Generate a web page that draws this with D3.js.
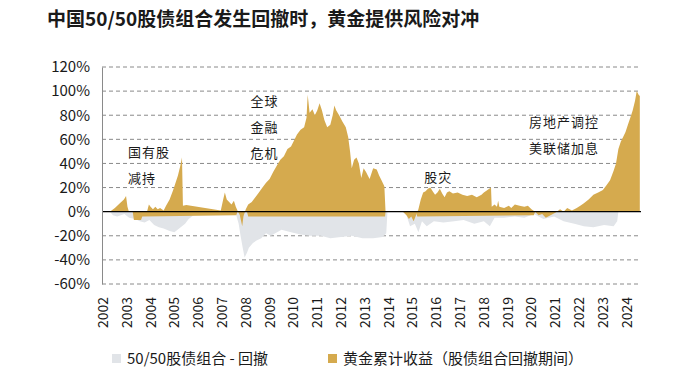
<!DOCTYPE html>
<html>
<head>
<meta charset="utf-8">
<script src="https://cdn.jsdelivr.net/npm/d3@7"></script>
<style>
  body { margin: 0; background: #fff; }
  text { font-family: "Noto Sans CJK SC", "Noto Sans", sans-serif; fill: #1a1a1a; }
</style>
</head>
<body>
<svg id="svg"></svg>
<script>
// colors
let gold = "#d5aa4e"
let grey = "#e1e4e8"

// x axis tick labels
let years = d3.range(2002, 2025);
let yTicks = [-60, -40, -20, 0, 20, 40, 60, 80, 100, 120];

// 50/50 portfolio drawdown (%)
let ddDates = [2002.29, 2002.42, 2002.6, 2002.9, 2003.1, 2003.35, 2003.55, 2003.75, 2003.95, 2004.15,
  2004.35, 2004.55, 2004.8, 2005.0, 2005.2, 2005.45, 2005.6, 2005.8, 2006.0, 2007.5,
  2007.6, 2007.7, 2007.78, 2007.87, 2007.95, 2008.05, 2008.13, 2008.3, 2008.45, 2008.65,
  2008.85, 2009.05, 2009.5, 2009.9, 2010.3, 2010.7, 2011.15, 2011.55, 2012.0, 2012.45,
  2012.9, 2013.35, 2013.75, 2013.9, 2013.95, 2014.6, 2014.75, 2014.9, 2015.1, 2015.25,
  2015.4, 2015.6, 2015.9, 2016.3, 2016.75, 2017.15, 2017.6, 2018.0, 2018.25, 2018.45,
  2018.85, 2019.3, 2019.7, 2020.1, 2020.5, 2020.95, 2021.35, 2021.8, 2022.2, 2022.6,
  2023.05, 2023.45, 2023.6, 2023.65, 2024.55];
let ddValues = [0, -3, -4, -2, -5, -6, -8, -9, -7, -11,
  -13, -14, -16, -17, -14, -10, -6, -3, 0, 0,
  -3, -10, -20, -30, -38, -34, -30, -26, -24, -22,
  -18, -20, -15, -17, -19, -20, -20, -22, -21, -20,
  -22, -22, -21, -18, 0, 0, -3, -12, -10, -17,
  -8, -12, -8, -9, -8, -7, -10, -8, -12, -5,
  -5, -4, -5, -2, -6, -4, -8, -10, -12, -13,
  -11, -12, -8, 0, 0];

// gold cumulative return during drawdowns (%)
let goldDates = [2002.29, 2002.5, 2002.71, 2002.88, 2002.97, 2003.03, 2003.09, 2003.85, 2003.93, 2004.0,
  2004.1, 2004.2, 2004.3, 2004.4, 2004.55, 2004.65, 2004.8, 2004.95, 2005.05, 2005.15,
  2005.25, 2005.32, 2005.36, 2005.5, 2006.95, 2007.05, 2007.12, 2007.2, 2007.3, 2007.4,
  2007.5, 2007.58, 2007.65, 2007.75, 2007.85, 2007.9, 2008.0, 2008.1, 2008.25, 2008.4,
  2008.55, 2008.7, 2008.85, 2009.0, 2009.15, 2009.3, 2009.45, 2009.6, 2009.75, 2009.9,
  2010.0, 2010.15, 2010.3, 2010.45, 2010.55, 2010.6, 2010.68, 2010.8, 2010.9, 2011.0,
  2011.1, 2011.2, 2011.3, 2011.42, 2011.55, 2011.65, 2011.72, 2011.8, 2011.92, 2012.05,
  2012.2, 2012.3, 2012.38, 2012.45, 2012.55, 2012.65, 2012.75, 2012.85, 2012.95, 2013.05,
  2013.2, 2013.35, 2013.5, 2013.6, 2013.7, 2013.82, 2013.87, 2014.6, 2014.75, 2014.85,
  2014.95, 2015.05, 2015.15, 2015.25, 2015.35, 2015.45, 2015.55, 2015.65, 2015.75, 2015.85,
  2015.95, 2016.05, 2016.15, 2016.25, 2016.35, 2016.45, 2016.55, 2016.7, 2016.9, 2017.1,
  2017.3, 2017.5, 2017.7, 2017.9, 2018.0, 2018.15, 2018.3, 2018.33, 2018.45, 2018.55,
  2018.6, 2018.65, 2018.85, 2019.05, 2019.15, 2019.3, 2019.5, 2019.7, 2019.85, 2020.0,
  2020.15, 2020.3, 2020.45, 2020.6, 2020.8, 2021.0, 2021.2, 2021.35, 2021.5, 2021.7,
  2021.9, 2022.05, 2022.2, 2022.4, 2022.6, 2022.8, 2023.0, 2023.15, 2023.3, 2023.45,
  2023.55, 2023.65, 2023.75, 2023.85, 2023.95, 2024.05, 2024.15, 2024.25, 2024.35, 2024.42,
  2024.5, 2024.55];
let goldValues = [0, 3, 7, 10, 13, 4, 0, 0, 6, 4,
  2, 4, 2, 3, 1, 5, 10, 18, 24, 30,
  38, 45, 5, 5.5, 1, 10, 16, 10, 8, 6,
  9, 4, 1, -3, -12, -4, 2, 6, 8, 12,
  16, 20, 24, 27, 33, 38, 43, 46, 52, 54,
  58, 64, 68, 70, 78, 97, 82, 85, 80, 84,
  90, 84, 76, 70, 72, 80, 88, 84, 80, 75,
  70, 62, 50, 36, 43, 45, 40, 28, 36, 33,
  27, 36, 35, 30, 26, 21, 0, 0, -3, -6,
  -4, -8, -3, 2, 10, 16, 17, 19, 20, 17,
  14, 16, 19, 15, 12, 16, 17, 15, 16, 14,
  13, 14, 12, 14, 16, 18, 20, 4, 6, 4,
  9, 4, 3, 5, 3, 6, 5, 4, 5, 2,
  0, -3, -2, -5, -3, -1, 2, 0, 3, 1,
  3, 5, 7, 10, 14, 16, 18, 22, 26, 34,
  40, 52, 58, 62, 66, 72, 78, 84, 92, 100,
  97, 96];

// thin gold band just below zero during drawdown spells (%)
let bandDates = [2003.25, 2003.3, 2003.6, 2003.65, 2007.6, 2007.65,
  2008.05, 2008.1, 2013.85, 2013.87,
  2015.15, 2015.2, 2020.1, 2020.15];
let bandValues = [0, -7, -7, -4, -3, 0,
  0, -4, -4, 0,
  0, -4, -3, 0];

let notes = [
  { lines: ["国有股", "减持"], x: 2003.05, y: 45 },
  { lines: ["全球", "金融", "危机"], x: 2008.2, y: 88 },
  { lines: ["股灾"], x: 2015.5, y: 25 },
  { lines: ["房地产调控", "美联储加息"], x: 2019.9, y: 70 }
];

let width = 695, height = 377;
let svg = d3.select("#svg").attr("width", width).attr("height", height);

let xScale = d3.scaleLinear().domain([2001.96, 2024.6]).range([102, 641]);
let yScale = d3.scaleLinear().domain([-60, 120]).range([284, 67]);

// title
svg.append("text")
  .attr("x", 47).attr("y", 26)
  .attr("font-size", 19).attr("font-weight", "bold")
  .text("中国50/50股债组合发生回撤时，黄金提供风险对冲");

// grid lines
svg.append("g").selectAll("line")
  .data(yTicks.filter(d => d !== 0))
  .join("line")
  .attr("x1", xScale.range()[0]).attr("x2", xScale.range()[1])
  .attr("y1", d => yScale(d)).attr("y2", d => yScale(d))
  .attr("stroke", "#8a8a8a").attr("stroke-width", 1)
  .attr("stroke-dasharray", "4,3");

// areas
let ddData = ddDates.map((d, i) => [d, ddValues[i]]);
let goldData = goldDates.map((d, i) => [d, goldValues[i]]);
let bandData = bandDates.map((d, i) => [d, bandValues[i]]);

let area = d3.area()
  .x(d => xScale(d[0]))
  .y0(yScale(0))
  .y1(d => yScale(d[1]));

svg.append("path").datum(ddData).attr("fill", grey).attr("d", area);
svg.append("path").datum(bandData).attr("fill", gold).attr("d", area);
svg.append("path").datum(goldData).attr("fill", gold).attr("d", area);

// zero line
svg.append("line")
  .attr("x1", xScale.range()[0]).attr("x2", xScale.range()[1])
  .attr("y1", yScale(0)).attr("y2", yScale(0))
  .attr("stroke", "#000").attr("stroke-width", 1.2);

// y axis
let yAxis = d3.axisLeft(yScale).tickValues(yTicks).tickSize(0).tickPadding(12)
  .tickFormat(d => d + "%");
let gy = svg.append("g").attr("transform", "translate(" + xScale.range()[0] + ",0)").call(yAxis);
gy.select(".domain").attr("stroke", "#8a8a8a");
gy.selectAll("text").attr("font-size", 15).attr("fill", "#1a1a1a")
  .attr("font-family", "'Noto Sans', sans-serif");

// x axis labels (rotated)
svg.append("g").selectAll("text")
  .data(years)
  .join("text")
  .attr("transform", d => "translate(" + (xScale(d) + 5) + ",297) rotate(-90)")
  .attr("text-anchor", "end")
  .attr("font-size", 14)
  .attr("font-family", "'Noto Sans', sans-serif")
  .text(d => d);

// annotations
notes.forEach(n => {
  n.lines.forEach((t, i) => {
    svg.append("text")
      .attr("x", xScale(n.x)).attr("y", yScale(n.y) + i * 26)
      .attr("font-size", 13).attr("letter-spacing", 1)
      .text(t);
  });
});

// legend
let legend = [
  { label: "50/50股债组合 - 回撤", color: grey, x: 112 },
  { label: "黄金累计收益（股债组合回撤期间）", color: gold, x: 328 }
];
let lg = svg.append("g").selectAll("g").data(legend).join("g")
  .attr("transform", d => "translate(" + d.x + ",354)");
lg.append("rect").attr("width", 9).attr("height", 9).attr("fill", d => d.color);
lg.append("text").attr("x", 15).attr("y", 9.5).attr("font-size", 15).text(d => d.label);
</script>
</body>
</html>
